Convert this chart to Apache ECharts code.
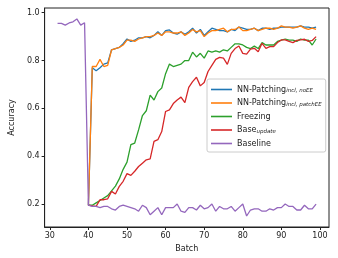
<!DOCTYPE html>
<html><head><meta charset="utf-8">
<script src="https://cdn.jsdelivr.net/npm/echarts@6/dist/echarts.min.js"></script>
<style>html,body{margin:0;padding:0;background:#fff}#c{width:338px;height:258px}</style>
</head><body><div id="c"></div>
<script>
const batchesBaseline = [32,33,34,35,36,37,38,39,40,41,42,43,44,45,46,47,48,49,50,51,52,53,54,55,56,57,58,59,60,61,62,63,64,65,66,67,68,69,70,71,72,73,74,75,76,77,78,79,80,81,82,83,84,85,86,87,88,89,90,91,92,93,94,95,96,97,98,99];
const batchesUpdate = [40,41,42,43,44,45,46,47,48,49,50,51,52,53,54,55,56,57,58,59,60,61,62,63,64,65,66,67,68,69,70,71,72,73,74,75,76,77,78,79,80,81,82,83,84,85,86,87,88,89,90,91,92,93,94,95,96,97,98,99];
const nnNoEE = [0.195,0.77,0.757,0.77,0.785,0.79,0.845,0.85,0.855,0.87,0.89,0.88,0.885,0.895,0.895,0.9,0.895,0.905,0.92,0.905,0.925,0.928,0.915,0.91,0.92,0.91,0.92,0.935,0.915,0.93,0.905,0.92,0.935,0.93,0.925,0.925,0.92,0.93,0.925,0.94,0.935,0.93,0.93,0.935,0.925,0.935,0.935,0.93,0.935,0.935,0.94,0.94,0.94,0.94,0.94,0.945,0.94,0.94,0.935,0.94];
const nnPatchEE = [0.195,0.775,0.775,0.805,0.775,0.78,0.845,0.85,0.855,0.865,0.885,0.885,0.88,0.89,0.895,0.9,0.9,0.905,0.915,0.905,0.92,0.92,0.915,0.915,0.92,0.905,0.915,0.93,0.92,0.925,0.9,0.915,0.925,0.925,0.93,0.935,0.92,0.93,0.93,0.94,0.925,0.925,0.93,0.935,0.925,0.93,0.935,0.935,0.93,0.935,0.945,0.94,0.94,0.935,0.94,0.945,0.935,0.93,0.935,0.93];
const freezing = [0.195,0.195,0.205,0.215,0.225,0.235,0.255,0.275,0.305,0.345,0.375,0.448,0.455,0.51,0.57,0.59,0.655,0.635,0.67,0.685,0.745,0.785,0.775,0.78,0.785,0.8,0.8,0.835,0.815,0.83,0.81,0.84,0.835,0.84,0.835,0.845,0.84,0.855,0.87,0.87,0.865,0.855,0.85,0.86,0.85,0.875,0.865,0.865,0.865,0.88,0.885,0.89,0.885,0.885,0.88,0.89,0.885,0.885,0.865,0.89];
const baseUpdate = [0.195,0.192,0.19,0.218,0.218,0.222,0.253,0.242,0.274,0.295,0.327,0.32,0.337,0.357,0.371,0.385,0.389,0.462,0.469,0.503,0.587,0.594,0.62,0.635,0.647,0.624,0.688,0.712,0.73,0.694,0.708,0.754,0.78,0.805,0.813,0.81,0.784,0.83,0.85,0.861,0.83,0.827,0.848,0.851,0.837,0.872,0.851,0.858,0.858,0.875,0.886,0.886,0.88,0.875,0.884,0.886,0.889,0.88,0.884,0.9];
const baseline = [0.955,0.955,0.948,0.957,0.962,0.974,0.948,0.958,0.195,0.19,0.19,0.185,0.19,0.19,0.18,0.175,0.19,0.195,0.19,0.185,0.18,0.17,0.195,0.185,0.155,0.17,0.185,0.155,0.185,0.185,0.185,0.2,0.17,0.165,0.185,0.185,0.175,0.195,0.18,0.185,0.2,0.17,0.19,0.18,0.18,0.19,0.17,0.185,0.2,0.15,0.175,0.18,0.18,0.17,0.17,0.18,0.175,0.185,0.185,0.2,0.19,0.19,0.175,0.175,0.195,0.18,0.18,0.2];
const xTicks = [30,40,50,60,70,80,90,100];
const yTicks = [0.2,0.4,0.6,0.8,1.0];
const names = ['NN-Patching{sub|incl, noEE}','NN-Patching{sub|incl, patchEE}','Freezing','Base{sub|update}','Baseline'];
const colors = ['#1f77b4','#ff7f0e','#2ca02c','#d62728','#9467bd'];

const zip = (xs, ys) => ys.map((v,i)=>[xs[i], v]);
const seriesData = [zip(batchesUpdate,nnNoEE), zip(batchesUpdate,nnPatchEE), zip(batchesUpdate,freezing), zip(batchesUpdate,baseUpdate), zip(batchesBaseline,baseline)];

const font = 'DejaVu Sans';
const chart = echarts.init(document.getElementById('c'));
chart.setOption({
  animation:false,
  backgroundColor:'#fff',
  grid:{left:36,right:9,top:8,bottom:31,show:true,borderColor:'#222',borderWidth:1,backgroundColor:'transparent'},
  xAxis:{type:'value',min:28.65,max:102.35,
    name:'Batch',nameLocation:'middle',nameGap:15,nameTextStyle:{fontFamily:font,fontSize:8,color:'#222'},
    axisLine:{show:true,lineStyle:{color:'#222',width:1}},
    axisTick:{show:true,length:3,customValues:xTicks,lineStyle:{color:'#222'}},
    axisLabel:{customValues:xTicks,fontFamily:font,fontSize:8,color:'#222',margin:5},
    splitLine:{show:false}},
  yAxis:{type:'value',min:0.104,max:1.0196,
    name:'Accuracy',nameLocation:'middle',nameGap:22,nameTextStyle:{fontFamily:font,fontSize:8,color:'#222'},
    axisLine:{show:true,lineStyle:{color:'#222',width:1}},
    axisTick:{show:true,length:3,customValues:yTicks,lineStyle:{color:'#222'}},
    axisLabel:{customValues:yTicks,fontFamily:font,fontSize:8,color:'#222',margin:5,formatter:v=>v.toFixed(1)},
    splitLine:{show:false}},
  legend:{orient:'vertical',left:207,top:79,itemWidth:21,itemHeight:1.6,itemGap:4.5,icon:'rect',
    padding:[6,4,4,4],backgroundColor:'#fff',borderColor:'#ccc',borderWidth:1,borderRadius:2,
    textStyle:{fontFamily:font,fontSize:8,lineHeight:9,color:'#222',padding:[0,0,0,0],
      rich:{sub:{fontFamily:font,fontSize:5.5,fontStyle:'italic',color:'#222',verticalAlign:'bottom',lineHeight:6,padding:[3,0,0,0]}}},
    data:names},
  series:names.map((n,i)=>({name:n,type:'line',data:seriesData[i],showSymbol:false,symbol:'none',
    lineStyle:{color:colors[i],width:1.3},itemStyle:{color:colors[i]},z:2+i}))
});
</script></body></html>
